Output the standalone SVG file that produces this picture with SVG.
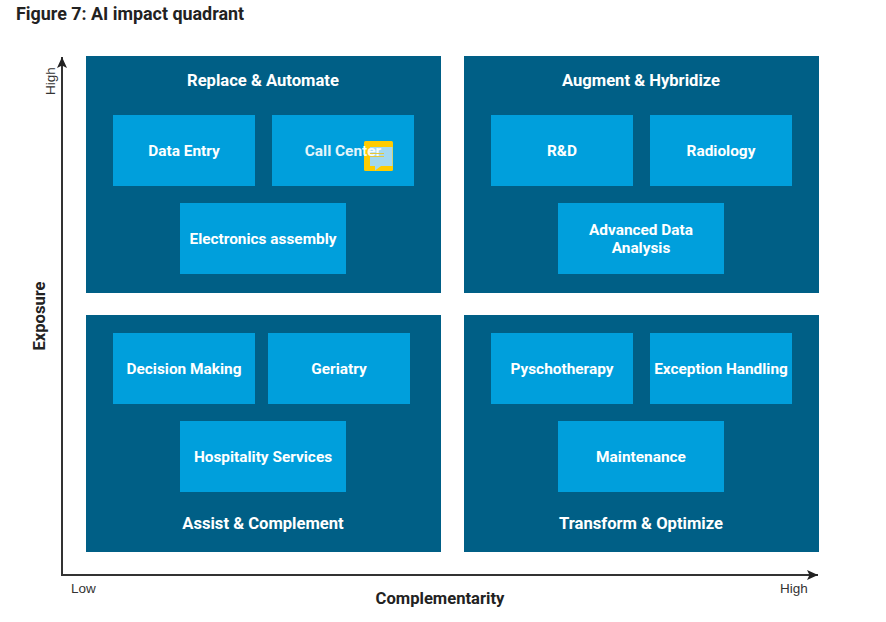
<svg xmlns="http://www.w3.org/2000/svg" width="886" height="622" viewBox="0 0 886 622">
<style>
text{font-family:Roboto,"Liberation Sans",sans-serif}
.q{fill:#005f86}
.b{fill:#009fdc}
.h{fill:#fff;font-size:16.600px;font-weight:700;text-anchor:middle}
.t{fill:#fff;font-size:15.400px;font-weight:700;text-anchor:middle}
.s{fill:#333;font-size:13.500px;font-family:"Liberation Sans",sans-serif}
.a{fill:#222;font-size:16.600px;font-weight:700;text-anchor:middle}
.ax{fill:none;stroke:#333;stroke-width:2}
</style>
<defs>
<marker id="ah" markerUnits="userSpaceOnUse" markerWidth="12" markerHeight="10" refX="11" refY="5" orient="auto">
<path d="M0 0L11 5L0 10L2.500 5Z" fill="#222"/>
</marker>
</defs>
<rect width="886" height="622" fill="#fff"/>
<text id="title" x="16" y="20" font-size="17.900" font-weight="700" fill="#222">Figure 7: AI impact quadrant</text>
<g id="connectors">
<path class="ax" d="M62 575V57" marker-end="url(#ah)"/>
<path class="ax" d="M61 575H818" marker-end="url(#ah)"/>
</g>
<g id="axis-labels">
<text class="s" transform="translate(55 95) rotate(-90)">High</text>
<text class="a" transform="translate(45 316) rotate(-90)">Exposure</text>
<text class="s" x="71" y="593">Low</text>
<text class="s" x="780" y="593">High</text>
<text class="a" x="440" y="604">Complementarity</text>
</g>
<g id="q1"><rect class="q" x="86" y="56" width="355" height="237"/><text class="h" x="263" y="86">Replace &amp; Automate</text></g>
<g id="q2"><rect class="q" x="464" y="56" width="355" height="237"/><text class="h" x="641" y="86">Augment &amp; Hybridize</text></g>
<g id="q3"><rect class="q" x="86" y="315" width="355" height="237"/><text class="h" x="263" y="529">Assist &amp; Complement</text></g>
<g id="q4"><rect class="q" x="464" y="315" width="355" height="237"/><text class="h" x="641" y="529">Transform &amp; Optimize</text></g>
<g id="data-entry"><rect class="b" x="113" y="115" width="142" height="71"/><text class="t" x="184" y="156">Data Entry</text></g>
<g id="call-center"><rect class="b" x="272" y="115" width="142" height="71"/>
<rect x="364" y="141" width="29" height="30" rx="1.500" fill="#fc0"/>
<path d="M370 147H392.500V166H381L375 170.500V166H370Z" fill="#a3d8ef"/>
<text class="t" x="343" y="156" opacity="0.900">Call Center</text>
<path d="M370 153.500H384M370 156.500H384" stroke="#e5c83a" stroke-width="1"/></g>
<g id="electronics"><rect class="b" x="180" y="203" width="166" height="71"/><text class="t" x="263" y="244">Electronics assembly</text></g>
<g id="rd"><rect class="b" x="491" y="115" width="142" height="71"/><text class="t" x="562" y="156">R&amp;D</text></g>
<g id="radiology"><rect class="b" x="650" y="115" width="142" height="71"/><text class="t" x="721" y="156">Radiology</text></g>
<g id="advanced"><rect class="b" x="558" y="203" width="166" height="71"/><text class="t" x="641" y="235">Advanced Data</text><text class="t" x="641" y="253">Analysis</text></g>
<g id="decision"><rect class="b" x="113" y="333" width="142" height="71"/><text class="t" x="184" y="374">Decision Making</text></g>
<g id="geriatry"><rect class="b" x="268" y="333" width="142" height="71"/><text class="t" x="339" y="374">Geriatry</text></g>
<g id="hospitality"><rect class="b" x="180" y="421" width="166" height="71"/><text class="t" x="263" y="462">Hospitality Services</text></g>
<g id="psychotherapy"><rect class="b" x="491" y="333" width="142" height="71"/><text class="t" x="562" y="374">Pyschotherapy</text></g>
<g id="exception"><rect class="b" x="650" y="333" width="142" height="71"/><text class="t" x="721" y="374">Exception Handling</text></g>
<g id="maintenance"><rect class="b" x="558" y="421" width="166" height="71"/><text class="t" x="641" y="462">Maintenance</text></g>
</svg>
